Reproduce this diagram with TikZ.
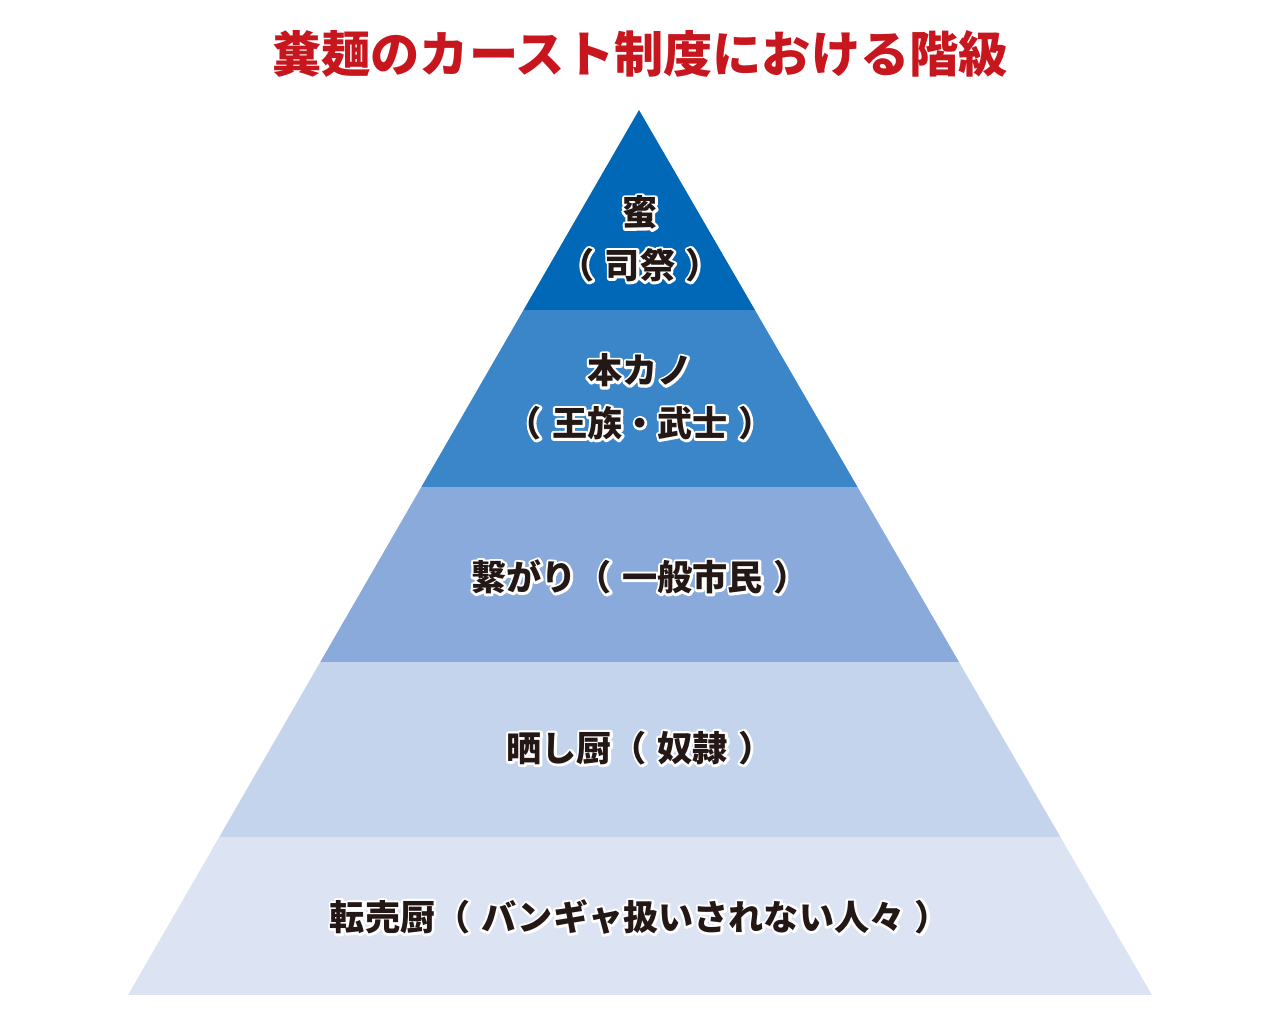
\documentclass[tikz,border=0pt]{standalone}
\usepackage{fontspec}
\usetikzlibrary{positioning}
\newfontfamily\cjk{Noto Sans CJK JP}[BoldFont={* Black}]
\newfontfamily\cjkhalo{Noto Sans CJK JP}[BoldFont={* Black}, BoldFeatures={FakeBold=14}]
\definecolor{inkc}{HTML}{231815}
\definecolor{titlered}{HTML}{C8161E}
\definecolor{tierA}{HTML}{0068B7}
\definecolor{tierB}{HTML}{3A86C8}
\definecolor{tierC}{HTML}{89AADA}
\definecolor{tierD}{HTML}{C4D4EC}
\definecolor{tierE}{HTML}{DCE4F3}
\newcommand{\TitleF}{\fontsize{28}{34}\selectfont\cjk\bfseries}
\newcommand{\TierF}{\fontsize{20}{28}\selectfont\cjk\bfseries}
\newcommand{\HaloF}{\fontsize{20}{28}\selectfont\cjkhalo\bfseries}
\newcommand{\Po}{（\hspace{0.3em}}
\newcommand{\Pc}{\hspace{0.3em}）}

\begin{document}
\begin{tikzpicture}[x=0.02cm, y=-0.02cm,
    tierlabel/.style={inner sep=0pt, align=center, text=inkc, font=\TierF},
    halolabel/.style={inner sep=0pt, align=center, text=white, font=\HaloF}]
  \useasboundingbox (0,0) rectangle (1280,1024);
  % pyramid bands
  \begin{scope}
    \clip (639,110) -- (1152,995) -- (128,995) -- cycle;
    \foreach \ytop/\ybot/\col in {110/310/tierA, 310/487/tierB, 487/662/tierC,
                                  662/837/tierD, 837/995/tierE}
      \fill[\col] (100,\ytop) rectangle (1180,\ybot);
  \end{scope}
  \node[font=\TitleF, text=titlered] (title) at (640,54) {糞麺のカースト制度における階級};
  % labels: white halo under black text
  \begin{scope}[line join=round, line cap=round]
  \foreach \nm/\yy/\txt in {priest/239/{蜜\\[2pt]\Po 司祭\Pc},
                            royal/397/{本カノ\\[2pt]\Po 王族・武士\Pc},
                            citizen/577/{繋がり\Po 一般市民\Pc},
                            slave/748/{晒し厨\Po 奴隷\Pc},
                            outcast/917/{転売厨\Po バンギャ扱いされない人々\Pc}} {
    \node[halolabel] (\nm-halo) at (640,\yy) {\txt};
    \node[tierlabel] (\nm) at (\nm-halo.center) {\txt};
  }
  \end{scope}
\end{tikzpicture}
\end{document}
